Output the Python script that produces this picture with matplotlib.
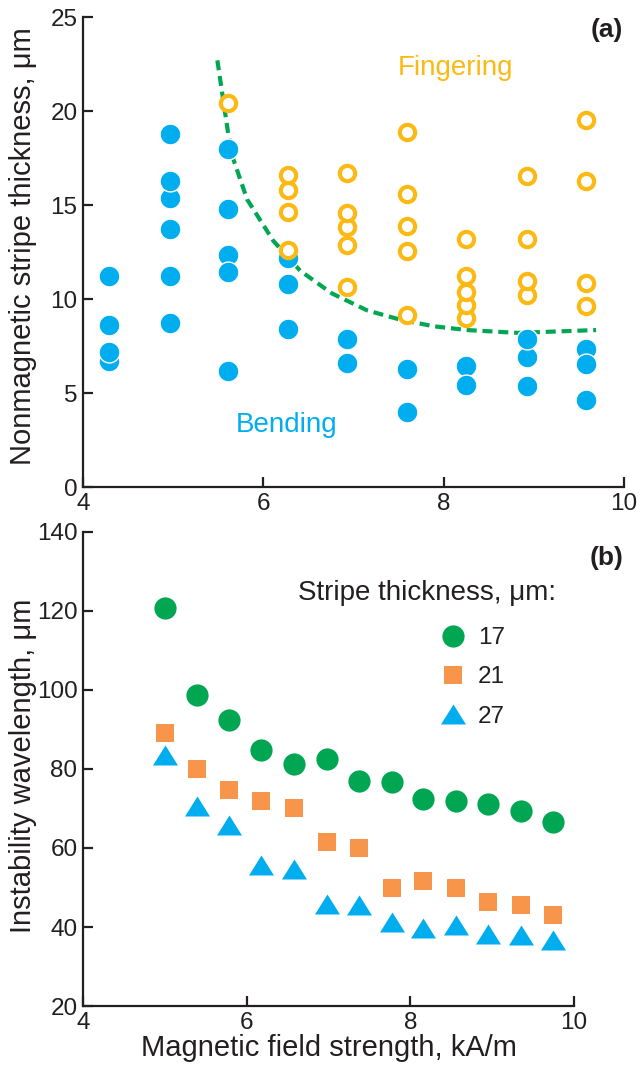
import matplotlib
matplotlib.use('Agg')
import matplotlib.pyplot as plt

plt.rcParams['font.family'] = ['Liberation Sans', 'DejaVu Sans']

# (a) bending points (filled) and fingering points (open)
bend_x = [4.29, 4.29, 4.29, 4.29,
          4.96, 4.96, 4.96, 4.96, 4.96, 4.96,
          5.61, 5.61, 5.61, 5.61, 5.61,
          6.27, 6.27, 6.27,
          6.93, 6.93,
          7.59, 7.59,
          8.25, 8.25,
          8.92, 8.92, 8.92,
          9.58, 9.58, 9.58]
bend_y = [11.2, 8.6, 6.7, 7.2,
          18.8, 15.4, 16.3, 13.7, 11.2, 8.7,
          18.0, 14.8, 12.35, 11.45, 6.15,
          12.2, 10.8, 8.4,
          7.85, 6.6,
          6.3, 4.0,
          6.45, 5.45,
          6.9, 7.85, 5.35,
          7.35, 6.55, 4.65]

fing_x = [5.61,
          6.27, 6.27, 6.27, 6.27,
          6.93, 6.93, 6.93, 6.93, 6.93,
          7.59, 7.59, 7.59, 7.59, 7.59,
          8.25, 8.25, 8.25, 8.25, 8.25,
          8.92, 8.92, 8.92, 8.92,
          9.58, 9.58, 9.58, 9.58]
fing_y = [20.45,
          12.6, 14.65, 15.8, 16.6,
          10.65, 12.85, 13.85, 14.6, 16.7,
          9.15, 12.55, 13.9, 15.6, 18.9,
          9.0, 9.7, 10.4, 11.2, 13.2,
          10.2, 10.95, 13.2, 16.55,
          9.65, 10.85, 16.3, 19.55]

# boundary curve
bound_x = [5.49, 5.61, 5.67, 5.82, 6.11, 6.41, 6.76, 7.15, 7.52, 7.89, 8.26, 8.82, 9.69]
bound_y = [22.7, 18.8, 17.4, 15.3, 13.1, 11.5, 10.3, 9.4, 8.9, 8.55, 8.35, 8.2, 8.35]

# (b) instability wavelength vs field
field = [5.0, 5.39, 5.79, 6.18, 6.58, 6.98, 7.37, 7.77, 8.16, 8.56, 8.95, 9.35, 9.74]
wl_17 = [120.7, 98.7, 92.4, 84.8, 81.3, 82.5, 77.0, 76.6, 72.4, 72.0, 71.1, 69.4, 66.7]
wl_21 = [89.2, 80.0, 74.7, 72.0, 70.1, 61.6, 60.1, 49.95, 51.6, 49.8, 46.4, 45.6, 43.0]
wl_27 = [83.5, 70.6, 65.8, 55.6, 54.8, 45.7, 45.5, 41.2, 39.7, 40.6, 38.3, 37.9, 36.8]
thick_labels = ['17', '21', '27']

blue = '#00AEEF'
yellow = '#FDB913'
green = '#00A651'
orange = '#F7964A'
ink = '#231F20'

fig = plt.figure(figsize=(6.41, 10.68), dpi=100)
ax1 = fig.add_axes([0.1295, 0.544, 0.844, 0.440])
ax2 = fig.add_axes([0.1295, 0.058, 0.766, 0.444])

for ax in (ax1, ax2):
    ax.spines['top'].set_visible(False)
    ax.spines['right'].set_visible(False)
    for s in ('left', 'bottom'):
        ax.spines[s].set_linewidth(1.6)
        ax.spines[s].set_color(ink)
    ax.tick_params(direction='in', length=7, width=1.6, color=ink,
                   labelsize=17.5, labelcolor=ink, pad=4)

# panel (a)
ax1.plot(bound_x, bound_y, color=green, lw=3, dashes=(2.4, 1.4), zorder=1)
ax1.plot(bend_x, bend_y, ls='none', marker='o', ms=15, mfc=blue, mec='white', mew=1.0, zorder=2)
for x, y in zip(fing_x, fing_y):
    ax1.plot([x], [y], ls='none', marker='o', ms=11, mfc='white', mec=yellow, mew=3, zorder=3)
ax1.set_xlim(4, 10)
ax1.set_ylim(0, 25)
ax1.set_xticks([4, 6, 8, 10])
ax1.set_yticks([0, 5, 10, 15, 20, 25])
ax1.text(8.13, 22.3, 'Fingering', color=yellow, fontsize=20, ha='center', va='center')
ax1.text(6.26, 3.3, 'Bending', color=blue, fontsize=20, ha='center', va='center')
ax1.set_ylabel('Nonmagnetic stripe thickness, μm', fontsize=21, color=ink)
ax1.yaxis.set_label_coords(37 / 641, 0.770, transform=fig.transFigure)
fig.text(0.972, 0.972, '(a)', fontsize=19, fontweight='bold', ha='right', va='center', color=ink)

# panel (b)
tri = [(-1.25, -1), (1.25, -1), (0, 1)]
h1, = ax2.plot(field, wl_17, ls='none', marker='o', ms=16, mfc=green, mew=0)
h2, = ax2.plot(field, wl_21, ls='none', marker='s', ms=13, mfc=orange, mew=0)
h3, = ax2.plot(field, wl_27, ls='none', marker=tri, ms=18, mfc=blue, mew=0)
ax2.set_xlim(4, 10)
ax2.set_ylim(20, 140)
ax2.set_xticks([4, 6, 8, 10])
ax2.set_yticks([20, 40, 60, 80, 100, 120, 140])
ax2.set_xlabel('Magnetic field strength, kA/m', fontsize=21, color=ink, labelpad=0)
ax2.set_ylabel('Instability wavelength, μm', fontsize=21, color=ink)
ax2.yaxis.set_label_coords(37 / 641, 0.283, transform=fig.transFigure)
fig.text(0.972, 0.4775, '(b)', fontsize=19, fontweight='bold', ha='right', va='center', color=ink)
fig.text(0.465, 0.4448, 'Stripe thickness, μm:', fontsize=20, ha='left', va='center', color=ink)
leg = fig.legend([h1, h2, h3], thick_labels, loc='upper left',
                 bbox_to_anchor=(0.688, 0.4129), frameon=False, fontsize=17.5,
                 handlelength=1.0, handletextpad=0.53, labelspacing=0.71,
                 borderpad=0, borderaxespad=0)
for t in leg.get_texts():
    t.set_color(ink)

fig.savefig('out.png', dpi=100)
